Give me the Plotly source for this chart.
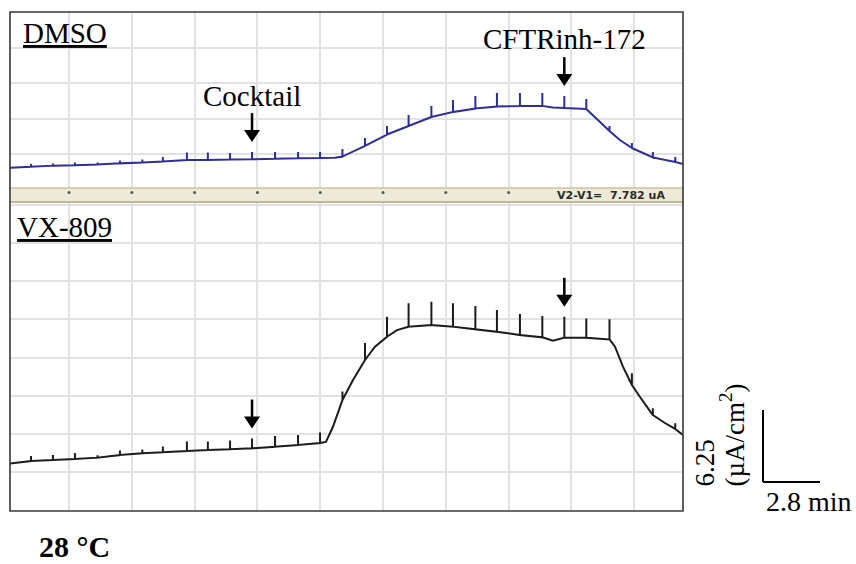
import plotly.graph_objects as go

# ---------------- recorded data ----------------
# Short-circuit current traces (µA/cm²) vs time (min); "pulse" = height of the
# periodic transepithelial voltage-pulse deflection at that sample (0 = none).

dmso_t = [0.00, 1.03, 2.11, 3.19, 4.30, 5.40, 6.50, 7.51, 8.69, 9.72,
          10.81, 11.89, 13.02, 14.15, 15.23, 15.96, 16.33, 17.44, 18.52, 19.58,
          20.70, 21.76, 22.86, 23.92, 25.05, 26.15, 26.67, 27.23, 28.31, 28.88,
          29.45, 29.96, 30.55, 31.58, 32.68, 33.06]
dmso_isc = [1.76, 1.85, 1.94, 1.97, 2.04, 2.14, 2.21, 2.30, 2.43, 2.43,
            2.47, 2.49, 2.54, 2.58, 2.60, 2.62, 2.73, 3.65, 4.64, 5.38,
            6.16, 6.60, 6.90, 7.07, 7.12, 7.12, 6.99, 6.94, 6.86, 5.90,
            4.95, 4.17, 3.47, 2.65, 2.26, 2.08]
dmso_pulse = [0, 0.23, 0.19, 0.24, 0.17, 0.24, 0.26, 0.39, 0.65, 0.65,
              0.56, 0.63, 0.58, 0.55, 0.52, 0, 0.65, 0.69, 0.74, 0.95,
              0.95, 1.04, 1.09, 1.17, 1.13, 1.13, 0, 1.04, 0.87, 0,
              0.43, 0, 0.43, 0.48, 0.43, 0]

vx_t = [0.00, 1.03, 2.11, 3.19, 4.30, 5.40, 6.50, 7.51, 8.69, 9.72,
        10.81, 11.89, 13.02, 14.15, 15.23, 15.52, 15.86, 16.33, 16.85, 17.44,
        17.93, 18.52, 19.01, 19.58, 20.70, 21.76, 22.86, 23.92, 25.05, 26.15,
        26.67, 27.23, 28.31, 29.45, 29.72, 30.11, 30.55, 30.94, 31.58, 32.17,
        32.68, 33.06]
vx_isc = [4.12, 4.34, 4.43, 4.51, 4.63, 4.86, 5.01, 5.10, 5.21, 5.30,
          5.36, 5.44, 5.58, 5.73, 5.90, 6.00, 7.29, 9.64, 11.37, 13.11,
          14.26, 15.13, 15.71, 16.00, 16.15, 16.00, 15.77, 15.56, 15.28, 15.08,
          14.78, 15.04, 15.04, 14.90, 14.26, 12.53, 10.94, 9.92, 8.33, 7.64,
          7.12, 6.60]
vx_pulse = [0, 0.43, 0.43, 0.52, 0.22, 0.39, 0.33, 0.50, 0.82, 0.74,
            0.76, 0.85, 0.93, 0.87, 0.91, 0, 0, 0.74, 0, 1.48,
            0, 1.74, 0, 2.03, 2.02, 2.03, 2.02, 1.88, 1.82, 1.85,
            0, 1.82, 1.68, 1.74, 0, 0, 1.02, 0, 0.58, 0,
            0.49, 0]

# drug additions (min)
cocktail_t = 11.89
inhibitor_t = 27.23

# scale bar
scale_min = 2.8
scale_isc = 6.25

panel_labels = ["DMSO", "VX-809"]
strip_text = "V2-V1=&nbsp; 7.782 uA"
temperature = "28 °C"

# ---------------- layout geometry ----------------
W, H = 856, 564


def fx(px):
    return px / W


def fy(py):
    return 1 - py / H


FRAME_L, FRAME_R = 10, 683
TOP_T, TOP_B = 12, 188
STRIP_B = 203
BOT_B = 511

T_SPAN = 33.06
TOP_SPAN = 15.28
BOT_SPAN = 26.74

GRID_T0, GRID_DT = 2.90, 3.085

SERIF = "Liberation Serif, Times New Roman, serif"
BLUE = "#2c2f98"
BLACK = "#1c1c1c"
GRID = "#e2e2e2"


def with_pulses(t, isc, pulse):
    xs, ys = [], []
    for ti, yi, pi in zip(t, isc, pulse):
        xs.append(ti)
        ys.append(yi)
        if pi > 0:
            xs += [ti, ti]
            ys += [yi + pi, yi]
    return xs, ys


def tip_at(t, isc, pulse, when):
    i = min(range(len(t)), key=lambda k: abs(t[k] - when))
    return t[i], isc[i] + pulse[i]


fig = go.Figure()

dx, dy = with_pulses(dmso_t, dmso_isc, dmso_pulse)
fig.add_trace(go.Scatter(x=dx, y=dy, mode="lines", xaxis="x", yaxis="y",
                         line=dict(color=BLUE, width=2), hoverinfo="skip"))
vx_x, vx_y = with_pulses(vx_t, vx_isc, vx_pulse)
fig.add_trace(go.Scatter(x=vx_x, y=vx_y, mode="lines", xaxis="x2", yaxis="y2",
                         line=dict(color=BLACK, width=2), hoverinfo="skip"))

# marker dots in the cursor strip, one under each vertical grid line
strip_dots = [GRID_T0 + k * GRID_DT for k in range(8)]
fig.add_trace(go.Scatter(x=strip_dots, y=[0.7] * len(strip_dots), mode="markers",
                         xaxis="x3", yaxis="y3",
                         marker=dict(color="#555555", size=3), hoverinfo="skip"))

hidden = dict(showticklabels=False, ticks="", zeroline=False, showline=False,
              fixedrange=True)
xgrid = dict(showgrid=True, gridcolor=GRID, gridwidth=2, tick0=GRID_T0,
             dtick=GRID_DT, range=[0, T_SPAN], domain=[fx(FRAME_L), fx(FRAME_R)])

fig.update_layout(
    width=W, height=H,
    margin=dict(l=0, r=0, t=0, b=0),
    paper_bgcolor="white", plot_bgcolor="white",
    showlegend=False,
    xaxis=dict(**hidden, **xgrid, anchor="y"),
    yaxis=dict(**hidden, showgrid=True, gridcolor=GRID, gridwidth=2,
               tick0=2.95, dtick=3.07, range=[0, TOP_SPAN],
               domain=[fy(TOP_B), fy(TOP_T)], anchor="x"),
    xaxis2=dict(**hidden, **xgrid, anchor="y2"),
    yaxis2=dict(**hidden, showgrid=True, gridcolor=GRID, gridwidth=2,
                tick0=3.39, dtick=3.31, range=[0, BOT_SPAN],
                domain=[fy(BOT_B), fy(STRIP_B)], anchor="x2"),
    xaxis3=dict(**hidden, showgrid=False, range=[0, T_SPAN],
                domain=[fx(FRAME_L), fx(FRAME_R)], anchor="y3"),
    yaxis3=dict(**hidden, showgrid=False, range=[0, 1],
                domain=[fy(STRIP_B), fy(TOP_B)], anchor="x3"),
)

shapes = []
# cursor strip between the two panels
shapes.append(dict(type="rect", xref="paper", yref="paper", layer="below",
                   x0=fx(FRAME_L), x1=fx(FRAME_R), y0=fy(STRIP_B), y1=fy(TOP_B),
                   fillcolor="#eeeada", line=dict(width=0)))
shapes.append(dict(type="line", xref="paper", yref="paper",
                   x0=fx(FRAME_L), x1=fx(FRAME_R), y0=fy(TOP_B), y1=fy(TOP_B),
                   line=dict(color="#cfc39c", width=1.4)))
shapes.append(dict(type="line", xref="paper", yref="paper",
                   x0=fx(FRAME_L), x1=fx(FRAME_R), y0=fy(STRIP_B - 1), y1=fy(STRIP_B - 1),
                   line=dict(color="#c4b88e", width=2)))
# outer frame
shapes.append(dict(type="rect", xref="paper", yref="paper",
                   x0=fx(FRAME_L), x1=fx(FRAME_R), y0=fy(BOT_B), y1=fy(TOP_T),
                   line=dict(color="#383838", width=1.6)))


def arrow(xref, yref, t, tip):
    head = dict(type="path", xref=xref, yref=yref, xsizemode="pixel",
                ysizemode="pixel", xanchor=t, yanchor=tip,
                path="M -8 22 L 8 22 L 0 10 Z", fillcolor="black",
                line=dict(width=0))
    shaft = dict(type="line", xref=xref, yref=yref, xsizemode="pixel",
                 ysizemode="pixel", xanchor=t, yanchor=tip,
                 x0=0, x1=0, y0=20, y1=39, line=dict(color="black", width=2.5))
    return [shaft, head]


c_top = tip_at(dmso_t, dmso_isc, dmso_pulse, cocktail_t)
i_top = tip_at(dmso_t, dmso_isc, dmso_pulse, inhibitor_t)
c_bot = tip_at(vx_t, vx_isc, vx_pulse, cocktail_t)
i_bot = tip_at(vx_t, vx_isc, vx_pulse, inhibitor_t)
shapes += arrow("x", "y", *c_top)
shapes += arrow("x", "y", *i_top)
shapes += arrow("x2", "y2", *c_bot)
shapes += arrow("x2", "y2", *i_bot)

# scale bar (lengths follow the lower panel's axis scales)
px_per_min = (FRAME_R - FRAME_L) / T_SPAN
px_per_isc = (BOT_B - STRIP_B) / BOT_SPAN
bar_x, bar_y = 763, 482
bar_w = scale_min * px_per_min
bar_h = scale_isc * px_per_isc
shapes.append(dict(type="line", xref="paper", yref="paper",
                   x0=fx(bar_x), x1=fx(bar_x), y0=fy(bar_y), y1=fy(bar_y - bar_h),
                   line=dict(color="black", width=2)))
shapes.append(dict(type="line", xref="paper", yref="paper",
                   x0=fx(bar_x), x1=fx(bar_x + bar_w), y0=fy(bar_y), y1=fy(bar_y),
                   line=dict(color="black", width=2)))

fig.update_layout(shapes=shapes)

ann = []
serif = lambda s, **kw: dict(family=SERIF, size=s, color="black", **kw)
ann.append(dict(text="<u>%s</u>" % panel_labels[0], xref="paper", yref="paper",
                x=fx(21), y=fy(15), xanchor="left", yanchor="top",
                showarrow=False, font=serif(29)))
ann.append(dict(text="<u>%s</u>" % panel_labels[1], xref="paper", yref="paper",
                x=fx(15), y=fy(209), xanchor="left", yanchor="top",
                showarrow=False, font=serif(29)))
ann.append(dict(text="Cocktail", xref="x", yref="y", x=c_top[0], y=c_top[1],
                xanchor="center", yanchor="bottom", yshift=38,
                showarrow=False, font=serif(29)))
ann.append(dict(text="CFTRinh-172", xref="x", yref="y", x=i_top[0], y=i_top[1],
                xanchor="center", yanchor="bottom", yshift=39,
                showarrow=False, font=serif(29)))
ann.append(dict(text=strip_text, xref="paper", yref="paper",
                x=fx(611), y=fy(196), xanchor="center", yanchor="middle",
                showarrow=False,
                font=dict(family="DejaVu Sans", size=11, color="#2a2a2a",
                          weight="bold")))
ann.append(dict(text="<b>%s</b>" % temperature, xref="paper", yref="paper",
                x=fx(37), y=fy(528), xanchor="left", yanchor="top",
                showarrow=False, font=serif(30)))
ann.append(dict(text="%g min" % scale_min, xref="paper", yref="paper",
                x=fx(764), y=fy(484), xanchor="left", yanchor="top",
                showarrow=False, font=serif(28)))
ann.append(dict(text="%g" % scale_isc, xref="paper", yref="paper",
                x=fx(704), y=fy(489), xanchor="center", yanchor="bottom",
                textangle=-90, showarrow=False, font=serif(27)))
ann.append(dict(text="(µA/cm<sup>2</sup>)", xref="paper", yref="paper",
                x=fx(732), y=fy(489), xanchor="center", yanchor="bottom",
                textangle=-90, showarrow=False, font=serif(27)))
fig.update_layout(annotations=ann)

fig.write_html("out.html")
